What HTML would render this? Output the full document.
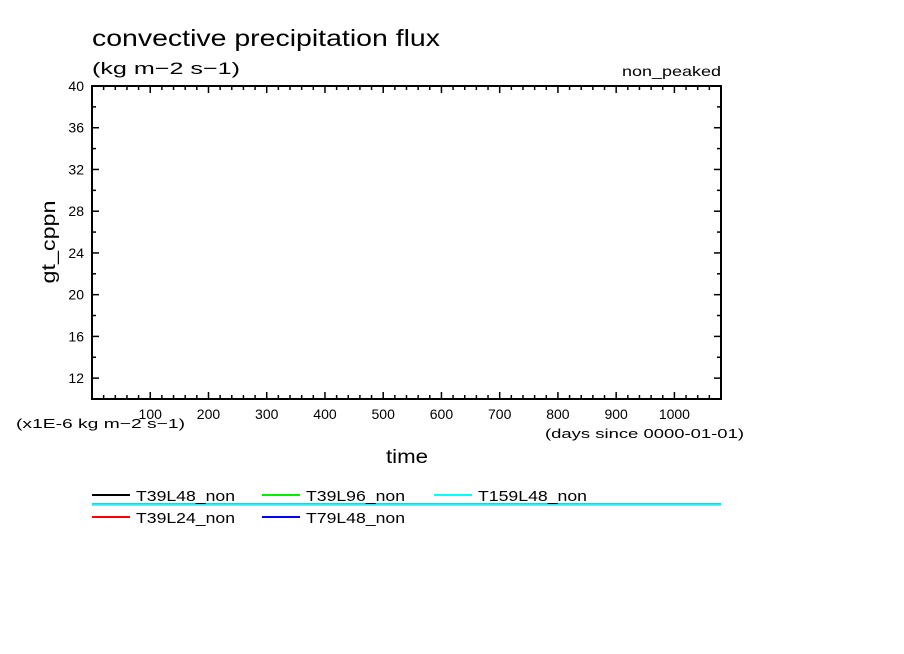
<!DOCTYPE html>
<html><head><meta charset="utf-8"><style>
html,body{margin:0;padding:0;background:#fff;}
svg{display:block;font-family:"Liberation Sans",sans-serif;}
</style></head><body>
<svg id="chart" width="904" height="654" viewBox="0 0 904 654" xmlns="http://www.w3.org/2000/svg">
<text x="92" y="46" font-size="23" textLength="348" lengthAdjust="spacingAndGlyphs">convective precipitation flux</text>
<text x="92" y="74" font-size="17" textLength="148" lengthAdjust="spacingAndGlyphs">(kg m−2 s−1)</text>
<text x="622" y="76" font-size="14" textLength="99" lengthAdjust="spacingAndGlyphs">non_peaked</text>
<g id="axes"></g>
<text x="55" y="242" font-size="19" text-anchor="middle" textLength="83" lengthAdjust="spacingAndGlyphs" transform="rotate(-90 55 242)">gt_cppn</text>
<text x="16" y="428" font-size="13" textLength="169" lengthAdjust="spacingAndGlyphs">(x1E-6 kg m−2 s−1)</text>
<text x="545" y="438" font-size="13" textLength="199" lengthAdjust="spacingAndGlyphs">(days since 0000-01-01)</text>
<text x="386" y="463" font-size="19" textLength="42" lengthAdjust="spacingAndGlyphs">time</text>
<g id="series"></g>
<g id="legend"></g>
</svg>
<script>
const seriesNames = ["T39L48_non","T39L24_non","T39L96_non","T79L48_non","T159L48_non"];
const seriesColors = ["#000000","#ff0000","#00ee00","#0000ff","#00ffff"];
const seriesStart = [0,0,0,0,0];
const seriesEnd = [1080,1080,1080,1080,1080];
const seriesValue = [0,0,0,0,0];
const yTickLabels = [12,16,20,24,28,32,36,40];
const xTickLabels = [100,200,300,400,500,600,700,800,900,1000];

const NS="http://www.w3.org/2000/svg";
const L=92,R=721,T=86,B=399;
const xMin=0,xMax=1080,yMin=10,yMax=40;
const xs=v=>L+(v-xMin)/(xMax-xMin)*(R-L);
const ys=v=>B-(v-yMin)/(yMax-yMin)*(B-T);
function mk(tag,attrs,parent){const e=document.createElementNS(NS,tag);for(const k in attrs)e.setAttribute(k,attrs[k]);parent.appendChild(e);return e;}
const axes=document.getElementById('axes');
const frame=mk('rect',{x:L,y:T,width:R-L,height:B-T,fill:'none',stroke:'#000','stroke-width':2},axes);


for(let d=20;d<xMax;d+=20){
  const major=d%100===0, len=major?7:4, x=xs(d);
  const t1=mk('line',{x1:x,y1:B,x2:x,y2:B-len,stroke:'#000','stroke-width':1.5},axes);
  
  
  const t2=mk('line',{x1:x,y1:T,x2:x,y2:T+len,stroke:'#000','stroke-width':1.5},axes);
  
  
}
xTickLabels.forEach(v=>{
  const t=mk('text',{x:xs(v),y:B+20,'font-size':14,'text-anchor':'middle'},axes);
  t.textContent=v;
  
  
});
for(let v=yMin+2;v<=yMax;v+=2){
  const major=(v-12)%4===0, len=major?7:4, y=ys(v);
  const t1=mk('line',{x1:L,y1:y,x2:L+len,y2:y,stroke:'#000','stroke-width':1.5},axes);
  
  
  const t2=mk('line',{x1:R,y1:y,x2:R-len,y2:y,stroke:'#000','stroke-width':1.5},axes);
  
  
}
yTickLabels.forEach(v=>{
  const t=mk('text',{x:L-8,y:ys(v)+5,'font-size':14,'text-anchor':'end'},axes);
  t.textContent=v;
  
  
});
const sg=document.getElementById('series');
seriesNames.forEach((n,i)=>{
  const ln=mk('line',{x1:xs(seriesStart[i]),y1:ys(seriesValue[i])+1,x2:xs(seriesEnd[i]),y2:ys(seriesValue[i])+1,stroke:seriesColors[i],'stroke-width':2},sg);
  
  
});
const lg=document.getElementById('legend');
const legPos=[[92,495],[92,517],[262,495],[262,517],[434,495]];
seriesNames.forEach((n,i)=>{
  const [x,y]=legPos[i];
  const g=mk('g',{},lg);
  
  
  mk('line',{x1:x,y1:y,x2:x+38,y2:y,stroke:seriesColors[i],'stroke-width':2},g);
  const t=mk('text',{x:x+44,y:y+6,'font-size':15,textLength:n.length*10-1,lengthAdjust:'spacingAndGlyphs'},g);
  t.textContent=n;
});
</script>
</body></html>
